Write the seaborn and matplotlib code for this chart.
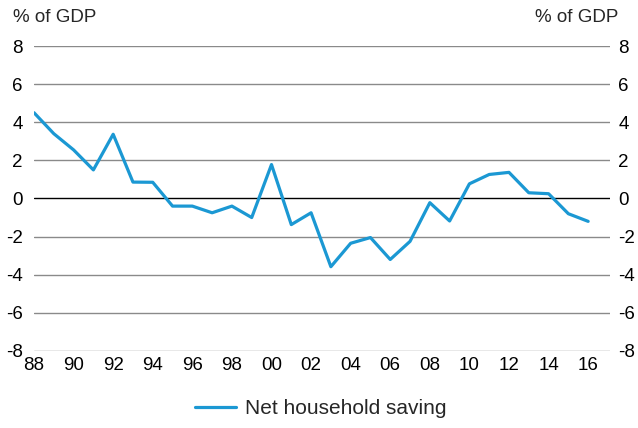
import matplotlib
matplotlib.use("Agg")
import matplotlib.pyplot as plt
import seaborn as sns
import pandas as pd

# Net household saving, % of GDP
years = list(range(1988, 2017))
saving = [4.5, 3.4, 2.55, 1.5, 3.37, 0.86, 0.85, -0.4, -0.4, -0.75,
          -0.4, -1.0, 1.78, -1.37, -0.75, -3.58, -2.35, -2.05, -3.2, -2.25,
          -0.22, -1.18, 0.77, 1.26, 1.37, 0.3, 0.25, -0.8, -1.2]
series_name = "Net household saving"
unit_label = "% of GDP"
x_ticks = list(range(1988, 2017, 2))
x_tick_labels = [f"{y % 100:02d}" for y in x_ticks]
y_ticks = [-8, -6, -4, -2, 0, 2, 4, 6, 8]

sns.set_style("white")
plt.rcParams["font.family"] = ["Liberation Sans", "DejaVu Sans"]

df = pd.DataFrame({"year": years, "value": saving, "series": series_name})

fig = plt.figure(figsize=(6.38, 4.28), dpi=100)
ax = fig.add_axes([0.0533, 0.18, 0.9027, 0.7125])

for y in y_ticks:
    if y == 0:
        ax.axhline(y, color="black", lw=1.0, zorder=1)
    else:
        ax.axhline(y, color="#8a8a8a", lw=1.0, zorder=1)

sns.lineplot(data=df, x="year", y="value", hue="series",
             palette=["#1b98d3"], lw=2.3, ax=ax, zorder=3)

tick_size = 13.5
ax.set_xlim(1988, 2017.1)
ax.set_ylim(-8, 8)
ax.set_xticks(x_ticks)
ax.set_xticklabels(x_tick_labels)
ax.set_yticks(y_ticks)
ax.set_yticklabels([str(v) for v in y_ticks])
ax.tick_params(axis="both", length=0, labelsize=tick_size, colors="black")
ax.tick_params(axis="y", pad=8)
ax.tick_params(axis="x", pad=4)
ax.set_xlabel("")
ax.set_ylabel("")
for s in ax.spines.values():
    s.set_visible(False)

ax2 = ax.twinx()
ax2.set_ylim(-8, 8)
ax2.set_yticks(y_ticks)
ax2.set_yticklabels([str(v) for v in y_ticks])
ax2.tick_params(axis="y", length=0, labelsize=tick_size, pad=6, colors="black")
for s in ax2.spines.values():
    s.set_visible(False)

fig.text(13 / 638, 1 - 17 / 428, unit_label, fontsize=tick_size, va="center", ha="left")
fig.text(618 / 638, 1 - 17 / 428, unit_label, fontsize=tick_size, va="center", ha="right")

handles, labels = ax.get_legend_handles_labels()
ax.legend_.remove()
fig.legend(handles, labels, loc="center", bbox_to_anchor=(0.502, 1 - 409 / 428),
           frameon=False, fontsize=15, handlelength=2.0, handletextpad=0.4)

fig.savefig("out.png", dpi=100)
